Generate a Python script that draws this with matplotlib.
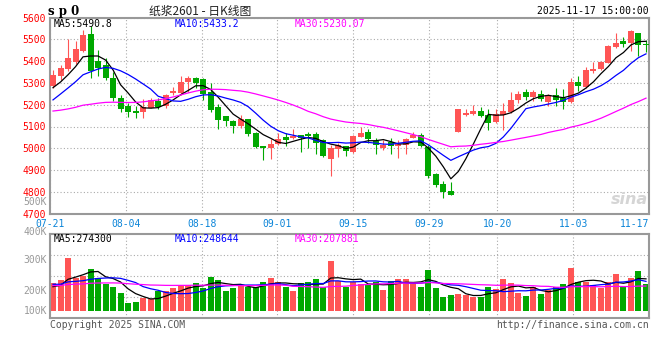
import matplotlib
matplotlib.use("Agg")
import matplotlib.pyplot as plt
import pandas as pd

# ---- data (SP2601 daily, 2025-07-21 .. 2025-11-17) ----
date_labels = ["07-21", "08-04", "08-18", "09-01", "09-15", "09-29", "10-20", "11-03", "11-17"]
date_index = [0, 10, 20, 30, 40, 50, 59, 69, 79]

opens = [5286, 5332, 5362, 5398, 5446, 5524, 5401, 5382, 5324, 5229,
         5196, 5171, 5168, 5187, 5217, 5196, 5254, 5252, 5306, 5324,
         5318, 5257, 5191, 5148, 5125, 5102, 5135, 5072, 5011, 5000,
         5020, 5054, 5046, 5061, 5067, 5067, 5037, 4950, 4995, 5011,
         4985, 5054, 5073, 5034, 5000, 5028, 5011, 5015, 5049, 5061,
         5008, 4881, 4835, 4804, 5076, 5153, 5156, 5171, 5153, 5119,
         5153, 5165, 5220, 5257, 5237, 5248, 5214, 5245, 5229, 5211,
         5303, 5283, 5356, 5362, 5393, 5466, 5492, 5482, 5528, 5479]
highs = [5359, 5382, 5502, 5492, 5543, 5561, 5451, 5416, 5349, 5245,
         5206, 5196, 5226, 5229, 5229, 5249, 5283, 5332, 5332, 5329,
         5321, 5298, 5202, 5148, 5130, 5153, 5135, 5076, 5011, 5041,
         5069, 5069, 5087, 5061, 5073, 5076, 5041, 5015, 5026, 5011,
         5062, 5100, 5089, 5046, 5038, 5046, 5038, 5046, 5076, 5072,
         5015, 4885, 4850, 4847, 5179, 5179, 5199, 5188, 5179, 5179,
         5210, 5256, 5261, 5272, 5268, 5268, 5249, 5278, 5272, 5324,
         5332, 5375, 5398, 5400, 5472, 5528, 5512, 5543, 5530, 5497]
lows = [5275, 5313, 5355, 5385, 5440, 5321, 5332, 5313, 5217, 5168,
        5145, 5138, 5141, 5184, 5180, 5187, 5245, 5245, 5257, 5275,
        5222, 5168, 5089, 5104, 5072, 5095, 5058, 5003, 4946, 4951,
        5015, 5011, 5043, 4985, 5003, 4974, 4962, 4873, 4962, 4966,
        4980, 5054, 5023, 4972, 4992, 4972, 4957, 4972, 5046, 5008,
        4862, 4821, 4774, 4786, 5073, 5148, 5153, 5145, 5084, 5115,
        5084, 5160, 5208, 5222, 5217, 5217, 5196, 5196, 5180, 5208,
        5263, 5275, 5344, 5360, 5390, 5459, 5466, 5446, 5425, 5443]
closes = [5336, 5370, 5416, 5456, 5520, 5355, 5370, 5324, 5229, 5179,
          5168, 5164, 5188, 5222, 5191, 5245, 5263, 5306, 5321, 5298,
          5249, 5176, 5130, 5125, 5104, 5135, 5067, 5008, 5000, 5020,
          5043, 5040, 5057, 5049, 5058, 5023, 4966, 5000, 5015, 4989,
          5057, 5072, 5041, 5015, 5015, 5011, 5018, 5043, 5061, 5011,
          4873, 4832, 4798, 4786, 5179, 5164, 5171, 5150, 5115, 5158,
          5171, 5222, 5251, 5237, 5257, 5225, 5245, 5222, 5211, 5303,
          5286, 5359, 5366, 5398, 5469, 5485, 5479, 5540, 5474, 5476]
# volume, thousands of lots
volumes = [241, 264, 453, 283, 300, 360, 283, 230, 207, 153,
           71, 79, 108, 102, 170, 173, 198, 210, 221, 241,
           198, 292, 264, 170, 198, 210, 204, 207, 249, 283,
           249, 204, 173, 241, 249, 275, 207, 428, 255, 201,
           244, 227, 221, 244, 179, 255, 272, 272, 235, 204,
           349, 198, 119, 136, 145, 136, 122, 122, 207, 187,
           272, 238, 156, 130, 207, 145, 179, 204, 230, 368,
           244, 244, 221, 198, 244, 312, 204, 283, 340, 227]

# sessions before 07-21 (not drawn, only feed the moving averages)
prior_closes = [5250, 5245, 5235, 5230, 5225, 5220, 5215, 5205, 5200, 5190,
                5150, 5110, 5085, 5070, 5055, 5040, 5030, 5045, 5050, 5058,
                5100, 5140, 5170, 5200, 5220, 5240, 5250, 5270, 5294]
prior_volumes = [200, 215, 190, 230, 205, 210, 220, 195, 200, 225,
                 210, 205, 215, 200, 230, 210, 200, 215, 205, 200,
                 260, 250, 240, 245, 240, 210, 195, 190, 199]

ma_periods = [5, 10, 30]
ma_colors = ["#000000", "#0000FF", "#FF00FF"]
price_ma_text = ["MA5:5490.8", "MA10:5433.2", "MA30:5230.07"]
vol_ma_text = ["MA5:274300", "MA10:248644", "MA30:207881"]
vol_axis_text = ["500K", "400K", "300K", "200K", "100K"]

RED = "#FF5555"
GREEN = "#00A800"
GRID = "#AAAAAA"
MONO = "DejaVu Sans Mono"
W, H = 660, 360


def rect(left, top, right, bottom):
    return [left / W, 1 - bottom / H, (right - left) / W, (bottom - top) / H]


def moving(prior, values, n):
    s = pd.Series(list(prior) + list(values), dtype=float)
    return s.rolling(n).mean().iloc[len(prior):].to_numpy()


def style_axes(ax):
    for sp in ax.spines.values():
        sp.set_color("#999999")
        sp.set_linewidth(1.5)
    ax.tick_params(length=0)
    ax.grid(True, linestyle=(0, (1, 2)), color=GRID, linewidth=0.8)
    ax.set_axisbelow(True)


n = len(closes)
x = list(range(n))
xlim = (-0.4, n - 0.6)
tick_x = [xlim[0] + k * (xlim[1] - xlim[0]) / (n - 1) for k in date_index]
up = [c >= o for o, c in zip(opens, closes)]
colors = [RED if u else GREEN for u in up]

fig = plt.figure(figsize=(6.6, 3.6), dpi=100)
ax = fig.add_axes(rect(50, 17.5, 649, 213.7))
axv = fig.add_axes(rect(50, 234, 649, 318))

# ---- price panel ----
style_axes(ax)
ax.text(0.998, 0.07, "sina", transform=ax.transAxes, ha="right", va="center",
        fontsize=11.5, fontweight="bold", style="italic", color="#D5D5D5", zorder=1)
ax.vlines(x, lows, highs, colors=colors, linewidth=0.8, zorder=2)
body_low = [min(o, c) for o, c in zip(opens, closes)]
body_h = [max(abs(c - o), 2) for o, c in zip(opens, closes)]
ax.bar(x, body_h, bottom=body_low, width=0.8, color=colors, linewidth=0, zorder=3)
for p, col in zip(ma_periods, ma_colors):
    ax.plot(x, moving(prior_closes, closes, p), color=col, linewidth=0.9, zorder=4)
ax.set_xlim(*xlim)
ax.set_ylim(4700, 5600)
ax.set_yticks(range(4700, 5601, 100))
ax.tick_params(axis="y", labelcolor="#FF0000", labelsize=7, pad=3)
ax.set_xticks(tick_x)
ax.set_xticklabels(date_labels)
ax.tick_params(axis="x", labelcolor="#0A84D8", labelsize=7, pad=3.6)
for lab in ax.get_xticklabels() + ax.get_yticklabels():
    lab.set_family(MONO)
ax.get_xticklabels()[-1].set_ha("right")

# ---- volume panel ----
style_axes(axv)
axv.bar(x, volumes, width=0.8, color=colors, linewidth=0, zorder=2)
for p, col in zip(ma_periods, ma_colors):
    axv.plot(x, moving(prior_volumes, volumes, p), color=col, linewidth=0.9, zorder=3)
axv.set_xlim(*xlim)
axv.set_ylim(-59.5, 654.5)
lo, hi = axv.get_ylim()
axv.set_yticks([lo + (hi - lo) * q / 4 for q in range(1, 4)])
axv.set_yticklabels([])
axv.set_xticks(tick_x)
axv.set_xticklabels([])

# ---- texts ----
def px_text(px, py, s, **kw):
    kw.setdefault("family", MONO)
    kw.setdefault("fontsize", 7)
    kw.setdefault("va", "center")
    fig.text(px / W, 1 - py / H, s, **kw)


px_text(48, 11, "s p 0", fontsize=8.5, fontweight="bold", family="DejaVu Serif")
px_text(200, 11, "纸浆2601 - 日K线图", fontsize=8.5, ha="center",
        family=["Noto Sans CJK SC", "DejaVu Sans"], color="#222222")
px_text(649, 11, "2025-11-17 15:00:00", ha="right")

for label, col, px in zip(price_ma_text, ma_colors, [54, 175, 295]):
    px_text(px, 24, label, color=col)
for label, col, px in zip(vol_ma_text, ma_colors, [54, 175, 295]):
    px_text(px, 239.5, label, color=col)
for label, py in zip(vol_axis_text, [202, 232, 260, 291, 311]):
    px_text(47, py, label, ha="right", color="#999999")

px_text(50, 324.5, "Copyright 2025 SINA.COM", color="#555555")
px_text(649, 324.5, "http://finance.sina.com.cn", ha="right", color="#555555")

fig.savefig("out.png", dpi=100)
plt.close(fig)
